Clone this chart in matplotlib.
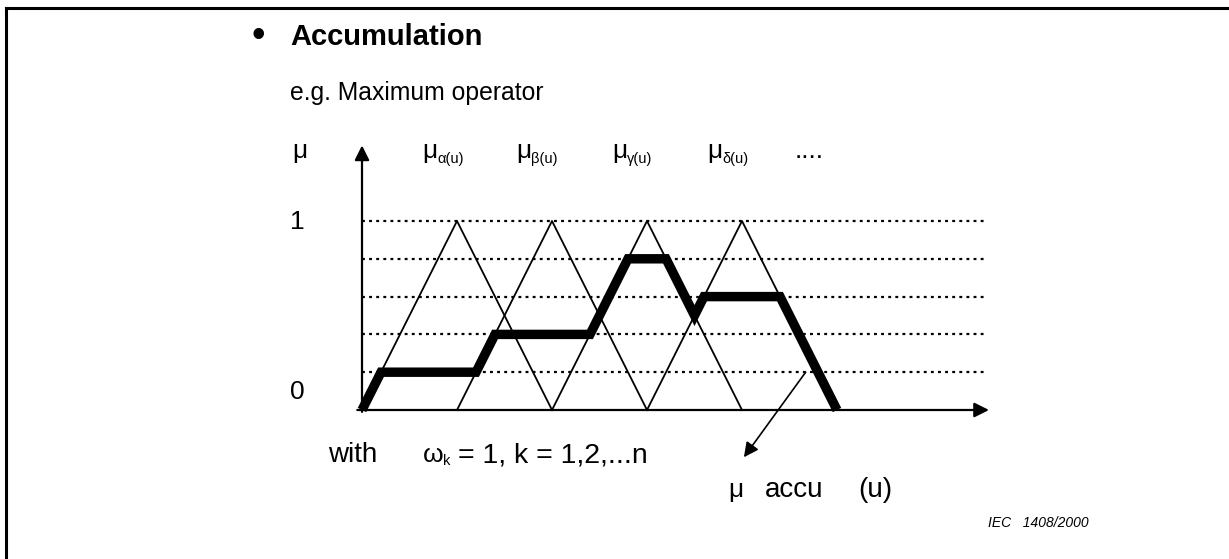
import matplotlib
matplotlib.use("Agg")
import matplotlib.pyplot as plt
from matplotlib import font_manager as fm

# ---------------- data ----------------
levels = [0.2, 0.4, 0.6, 0.8, 1.0]          # dotted grid levels
set_names = ["α", "β", "γ", "δ"]            # fuzzy sets
centers = [1, 2, 3, 4]                      # triangle peaks (u)
half_width = 1.0
peak = 1.0
# accumulated (max) membership, thick line vertices
accu_u = [0.0, 0.2, 1.2, 1.4, 2.4, 2.8, 3.2, 3.5, 3.6, 4.4, 5.0]
accu_mu = [0.0, 0.2, 0.2, 0.4, 0.4, 0.8, 0.8, 0.5, 0.6, 0.6, 0.0]
u_axis_end = 6.6
mu_axis_end = 1.40
grid_end = 6.57
annot_from = (4.67, 0.20)
annot_to = (4.02, -0.25)

# ---------------- figure ----------------
W, H = 1229, 559
fig = plt.figure(figsize=(W / 100, H / 100), dpi=100)
ax = fig.add_axes([0, 0, 1, 1])
X0, XS = 362.0, 95.0     # px of u=0, px per u
Y0, YS = 410.0, 189.0    # px (from top) of mu=0, px per mu
ax.set_xlim(-X0 / XS, (W - X0) / XS)
ax.set_ylim((Y0 - H) / YS, Y0 / YS)
ax.axis("off")

def P(xp, yp):
    return ((xp - X0) / XS, (Y0 - yp) / YS)

names = {f.name for f in fm.fontManager.ttflist}
REG = "Liberation Sans" if "Liberation Sans" in names else "DejaVu Sans"
HAS_NARROW = "Liberation Sans Narrow" in names
NARROW = "Liberation Sans Narrow" if HAS_NARROW else REG
FAM = [REG, "DejaVu Sans"]
NFAM = [NARROW, "DejaVu Sans"]

# border
fig.add_artist(plt.Line2D([6 / W, 6 / W], [0, 1 - 8 / H], color="k", lw=2.2, transform=fig.transFigure))
fig.add_artist(plt.Line2D([6 / W, 1229 / W], [1 - 8 / H, 1 - 8 / H], color="k", lw=2.2, transform=fig.transFigure))

# dotted grid
for lv in levels:
    ax.plot([0, grid_end], [lv, lv], color="k", lw=1.6, linestyle=(0, (1.3, 1.9)), zorder=1)

# triangles
for c in centers:
    ax.plot([c - half_width, c, c + half_width], [0, peak, 0], color="k", lw=1.3, zorder=2)

# accumulation
ax.plot(accu_u, accu_mu, color="k", lw=6.8, solid_joinstyle="miter", solid_capstyle="butt", zorder=4)

# axes with arrows
ax.annotate("", xy=(u_axis_end, 0), xytext=(-0.05, 0),
            arrowprops=dict(arrowstyle="-|>", mutation_scale=22, lw=1.6, color="k", shrinkA=0, shrinkB=0), zorder=3)
ax.annotate("", xy=(0, mu_axis_end), xytext=(0, -0.01),
            arrowprops=dict(arrowstyle="-|>", mutation_scale=22, lw=1.6, color="k", shrinkA=0, shrinkB=0), zorder=3)
ax.annotate("", xy=annot_to, xytext=annot_from,
            arrowprops=dict(arrowstyle="-|>", mutation_scale=22, lw=1.2, color="k", shrinkA=0, shrinkB=0), zorder=3)

# ---------------- texts ----------------
def T(xp, yp, s, size, ha="left", va="baseline", **kw):
    ax.text(*P(xp, yp), s, fontsize=size, ha=ha, va=va, family=kw.pop("family", FAM), **kw)

T(258, 47, "•", 28, ha="center")
T(290, 45, "Accumulation", 21, weight="bold")
T(290, 100, "e.g. Maximum operator", 21.5 if HAS_NARROW else 17.8, family=NFAM)

T(292, 158, "μ", 19)
label_x = [422, 516, 612, 707]
for xs, g in zip(label_x, set_names):
    T(xs, 158, "μ", 19)
    T(xs + 15, 163, f"{g}(u)", 10.5, family=NFAM)
T(795, 158, "....", 19)

T(297, 222, "1", 19, ha="center", va="center")
T(297, 392, "0", 19, ha="center", va="center")

T(328, 462, "with", 20)
T(423, 462, "ω", 19)
T(443, 465, "k", 10.5)
T(458, 462, "= 1, k = 1,2,...n", 20.5)

T(728, 497, "μ", 19)
T(765, 497, "accu", 20)
T(858, 497, "(u)", 20)

T(988, 527, "IEC   1408/2000", 10, style="italic")

fig.savefig("out.png", dpi=100)
